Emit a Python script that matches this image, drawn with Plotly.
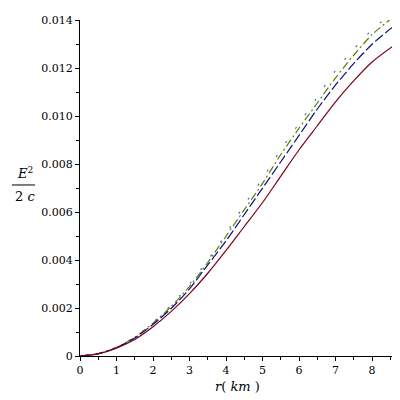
import plotly.graph_objects as go

# radius in km
r_km = [0, 0.5, 1, 1.5, 2, 2.5, 3, 3.5, 4, 4.5, 5, 5.5, 6, 6.5, 7, 7.5, 8, 8.55]

# E^2 / 2c for the four cases
e_solid = [0, 0.00009, 0.00033, 0.00069, 0.00122, 0.00186, 0.0026, 0.00345, 0.0044,
           0.0054, 0.0064, 0.0075, 0.0086, 0.0096, 0.0106, 0.01148, 0.01226, 0.0129]
e_dash = [0, 0.0001, 0.00035, 0.00075, 0.00132, 0.00199, 0.0028, 0.0038, 0.0048,
          0.0059, 0.0070, 0.0081, 0.0092, 0.0103, 0.0113, 0.0122, 0.0130, 0.0137]
e_dashdot = [0, 0.0001, 0.00036, 0.00078, 0.00137, 0.00207, 0.0029, 0.0039, 0.0050,
             0.0061, 0.0072, 0.0084, 0.0095, 0.01055, 0.0116, 0.01255, 0.0134, 0.0141]
e_dot = [0, 0.0001, 0.00037, 0.0008, 0.0014, 0.00213, 0.0030, 0.0040, 0.0051,
         0.0063, 0.0074, 0.0086, 0.0097, 0.0108, 0.0119, 0.0128, 0.0136, 0.0143]

y_ticks = [0, 0.002, 0.004, 0.006, 0.008, 0.010, 0.012, 0.014]
y_labels = ["0", "0.002", "0.004", "0.006", "0.008", "0.010", "0.012", "0.014"]
x_ticks = [0, 1, 2, 3, 4, 5, 6, 7, 8]

# Liberation Serif did not resolve here, DejaVu Serif does
SERIF = "DejaVu Serif"

curves = [
    (e_dot, "#4a6aa6", "2px,15px"),
    (e_dashdot, "#5a8200", "8px,3px,2px,3px"),
    (e_dash, "#0a1080", "10px,3px"),
    (e_solid, "#7a0018", "solid"),
]

fig = go.Figure()
for vals, color, dash in curves:
    fig.add_trace(go.Scatter(
        x=r_km, y=vals, mode="lines",
        line={"color": color, "width": 1.2, "dash": dash, "shape": "spline", "smoothing": 0.8},
        showlegend=False, hoverinfo="skip",
    ))

axis_common = {
    "ticks": "outside",
    "ticklen": 4,
    "tickcolor": "#000000",
    "showline": True,
    "linecolor": "#000000",
    "linewidth": 1,
    "showgrid": False,
    "zeroline": False,
    "ticklabeloverflow": "allow",
    "tickfont": {"family": SERIF, "size": 11, "color": "#000000"},
}

fig.update_layout(
    # page body adds an 8px margin, so the figure is 392 wide/high
    width=392,
    height=392,
    paper_bgcolor="#ffffff",
    plot_bgcolor="#ffffff",
    font={"family": SERIF, "size": 11, "color": "#000000"},
    margin={"l": 72, "r": 6, "t": 6, "b": 44},
    xaxis={
        **axis_common,
        "range": [0, 8.6],
        "tickvals": x_ticks,
        "minor": {"dtick": 0.5, "ticks": "outside", "ticklen": 3, "tickcolor": "#000000"},
    },
    yaxis={
        **axis_common,
        "range": [0, 0.01401],
        "tickvals": y_ticks,
        "ticktext": y_labels,
        "minor": {"dtick": 0.001, "ticks": "outside", "ticklen": 3, "tickcolor": "#000000"},
    },
    annotations=[
        {
            "text": "<i>r</i>( <i>km</i> )",
            "xref": "paper", "yref": "paper",
            "x": 0.5, "y": -0.09, "xanchor": "center", "yanchor": "middle",
            "showarrow": False, "font": {"family": SERIF, "size": 13},
        },
        {
            "text": "<i>E</i><sup>2</sup>",
            "xref": "paper", "yref": "paper",
            "x": -0.175, "y": 0.515, "xanchor": "center", "yanchor": "bottom",
            "showarrow": False, "font": {"family": SERIF, "size": 13},
        },
        {
            "text": "2 <i>c</i>",
            "xref": "paper", "yref": "paper",
            "x": -0.175, "y": 0.503, "xanchor": "center", "yanchor": "top",
            "showarrow": False, "font": {"family": SERIF, "size": 13},
        },
    ],
    shapes=[
        {
            "type": "line", "xref": "paper", "yref": "paper",
            "x0": -0.217, "x1": -0.143, "y0": 0.509, "y1": 0.509,
            "line": {"color": "#000000", "width": 1},
        }
    ],
)

fig.write_html("out.html")
